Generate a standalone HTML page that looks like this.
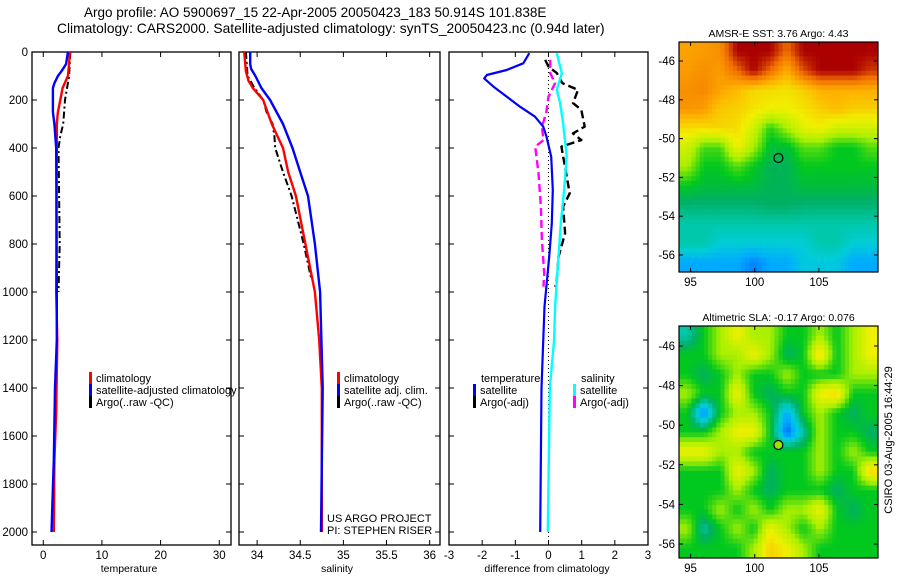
<!DOCTYPE html>
<html><head><meta charset="utf-8"><style>
body{margin:0;background:#fff;}
svg{display:block;font-family:"Liberation Sans",sans-serif;}
</style></head><body>
<svg id="fig" width="900" height="580" viewBox="0 0 900 580" xmlns="http://www.w3.org/2000/svg">
<defs>
<clipPath id="clipTop"><rect x="679" y="42" width="199" height="230"/></clipPath>
<clipPath id="clipBot"><rect x="679" y="326" width="199" height="232"/></clipPath>
</defs>
<text x="84" y="17" font-size="13.5">Argo profile: AO 5900697_15 22-Apr-2005 20050423_183 50.914S 101.838E</text>
<text x="57" y="33" font-size="13.8">Climatology: CARS2000. Satellite-adjusted climatology: synTS_20050423.nc (0.94d later)</text>
<g id="plots"></g>
<text x="0" y="0" font-size="11" transform="translate(892,440) rotate(-90)" text-anchor="middle">CSIRO 03-Aug-2005 16:44:29</text>
</svg>
<script>
// ---- data ----
const pTempClim=[0,50,100,150,200,250,300,400,1000,1200,1500,1700,2000];
const tempClim=[4.5,4.4,4.2,3.3,2.9,2.5,2.3,2.3,2.2,2.4,2.2,1.9,1.8];
const pTempSat=[0,50,80,100,130,150,250,300,400,1000,1200,1400,1700,2000];
const tempSat=[4.2,3.9,3.1,2.5,1.9,1.65,1.65,1.9,2.2,2.3,2.3,2.0,1.8,1.4];
const pTempArgo=[0,100,200,300,350,400,600,800,1000];
const tempArgo=[4.6,4.4,3.7,3.4,2.9,2.6,2.7,2.8,2.6];
const pSalClim=[0,80,120,150,200,300,400,500,600,800,1000,1200,1400,2000];
const salClim=[33.85,33.87,33.9,33.95,34.07,34.17,34.3,34.36,34.45,34.56,34.67,34.72,34.75,34.75];
const pSalSat=[0,50,70,100,150,200,300,400,500,600,800,1000,1400,2000];
const salSat=[33.92,33.92,33.93,33.98,34.05,34.15,34.3,34.41,34.5,34.59,34.67,34.73,34.76,34.74];
const pSalArgo=[0,100,150,200,250,300,350,400,500,600,700,800,900,950];
const salArgo=[33.87,33.89,33.97,34.07,34.11,34.18,34.2,34.21,34.3,34.4,34.47,34.54,34.6,34.63];
const pDiffTSat=[5,47,75,96,110,144,186,228,269,311,353,436,575,714,853,1061,1400,2000];
const diffTSat=[-0.58,-0.76,-1.26,-1.86,-1.94,-1.66,-1.26,-0.86,-0.41,-0.16,-0.06,0.08,0.13,0.1,0.02,-0.12,-0.21,-0.25];
const pDiffSSat=[5,88,158,213,297,436,575,714,853,1061,1200,1400,2000];
const diffSSat=[0.25,0.4,0.25,0.35,0.44,0.55,0.47,0.37,0.3,0.2,0.17,0.04,-0.02];
const pDiffTArgo=[33,61,88,130,158,213,241,311,339,367,394,589,644,755,853,950,978];
const diffTArgo=[-0.1,0,0.25,0.42,0.89,0.74,0.99,1.09,0.74,0.99,0.39,0.64,0.44,0.5,0.3,0.25,0.2];
const pDiffSArgo=[33,88,130,186,255,311,367,394,505,644,783,922,978];
const diffSArgo=[0.05,0.05,0.2,0,-0.07,-0.2,-0.15,-0.4,-0.3,-0.23,-0.2,-0.13,-0.15];
const yTicks=[0,200,400,600,800,1000,1200,1400,1600,1800,2000];
const sstGrid=[
[7.2,7.3,7.5,9,9,9,8,9,9,9,9,9],
[7.3,7.5,7.3,8,9,8,7,8.3,9,9,9,8.5],
[7.5,7.6,7.2,6.8,6.4,6.3,6.2,6.5,7,7,7,7],
[7.4,7.3,6.6,6.5,6.2,6,6,6.2,6.5,6.8,6.5,6.5],
[6.3,6.3,6.4,6.3,5.5,4.2,5,5.8,6,5.5,5.5,5.5],
[5.5,4.4,4.4,6,5,3.8,3.8,4.5,4.5,4,4,4.5],
[5,4,4,4.5,4,3.6,3.6,4,4,4,4,4],
[4,3.8,3.8,3.8,3.8,3.6,3.6,3.8,3.8,3.8,3.8,3.8],
[3.4,3.4,3.4,3.4,3.4,3.5,3.5,3.4,3.4,3.4,3.4,3.4],
[3,3,3,3,3,3,3,3,3,3,3,3],
[3,3,2.6,2.6,2.6,2.6,2.6,2.6,3,3,2.6,2.6],
[2,2,2,2,1.6,2,2,2.5,2.5,2.5,2,2]];
const slaGrid=[
[3,4,5,6,5,5,4,4,5,4,5,6],
[4,4,5,5,6,5,3.5,4,6.5,4,5,6],
[4,3.5,4,5,4,4,5,4,4,4,5,5],
[5,4,4,6,4,3.5,4,4,6,6.5,4,4],
[4,1.5,4,5,5,4,2,4,5,4,3.5,4],
[4,4,5,6,6,4,1.3,3,5,4,4,3.5],
[6,6,5,5,4,4,4,4,5,4,5,4],
[4,4,4,6,5,3.5,4,4,5,4,4,6.5],
[4,4,4,5,4,3.5,4,4,4,3.5,4,4],
[4,4,5,4,5,4,5,5,6,4,3.5,4],
[5,3,4,5,4,6,5,4,5,4,4,4],
[4,4,4,4,5,6.5,6,5,4,4,4,4]];

const NS='http://www.w3.org/2000/svg';
const root=document.getElementById('plots');
function mk(tag,attrs,parent){const e=document.createElementNS(NS,tag);for(const k in attrs)e.setAttribute(k,attrs[k]);(parent||root).appendChild(e);return e;}
const Y0=52,Y1=545;
const yScale=p=>52+p*0.24;

function panel(name,x0,x1,xmin,xmax,xticks,xlabels,title,titleX,showY){
  const g=mk('g',{});
  
  
  const xs=v=>x0+(v-xmin)/(xmax-xmin)*(x1-x0);
  const r=mk('rect',{x:x0,y:Y0,width:x1-x0,height:Y1-Y0,fill:'none',stroke:'#000','stroke-width':1.3},g);
  
  
  xticks.forEach((v,i)=>{
    const x=xs(v);
    mk('line',{x1:x,x2:x,y1:Y1,y2:Y1-5,stroke:'#000'},g);
    mk('line',{x1:x,x2:x,y1:Y0,y2:Y0+5,stroke:'#000'},g);
    const t=mk('text',{x:x,y:559,'font-size':11.5,'text-anchor':'middle'},g);
    t.textContent=xlabels[i];
    
    
  });
  yTicks.forEach(p=>{
    const y=yScale(p);
    mk('line',{x1:x0,x2:x0+5,y1:y,y2:y,stroke:'#000'},g);
    mk('line',{x1:x1,x2:x1-5,y1:y,y2:y,stroke:'#000'},g);
    if(showY){const t=mk('text',{x:28,y:y+4,'font-size':11.5,'text-anchor':'end'},g);t.textContent=p;
      
      }
  });
  const tt=mk('text',{x:titleX,y:572,'font-size':10.5,'text-anchor':'middle'},g);
  tt.textContent=title;
  
  
  return {g,xs};
}
function line(P,ps,vals,color,w,dash,nm){
  const d=ps.map((p,i)=>(i?'L':'M')+P.xs(vals[i]).toFixed(1)+' '+yScale(p).toFixed(1)).join(' ');
  const a={d:d,fill:'none',stroke:color,'stroke-width':w,'stroke-linejoin':'round'};
  if(dash)a['stroke-dasharray']=dash;
  const e=mk('path',a,P.g);
  
  
}
function legend(g,x,y,color,label,nm){
  if(color){mk('rect',{x:x,y:y-10,width:3,height:12,fill:color},g);}
  const t=mk('text',{x:x+7,y:y,'font-size':11},g);t.textContent=label;
  
  
}

// Panel 1: temperature
const P1=panel('temperature',32,231,-1.92,32,[0,10,20,30],['0','10','20','30'],'temperature',129,true);
line(P1,pTempArgo,tempArgo,'#000',2,'7,3,2,3','temp-argo-line');
line(P1,pTempClim,tempClim,'#ff0000',2.4,null,'temp-climatology-line');
line(P1,pTempSat,tempSat,'#0000ff',2.4,null,'temp-satellite-line');
legend(P1.g,89,382,'#ff0000','climatology','legend-climatology');
legend(P1.g,89,394,'#0000ff','satellite-adjusted climatology','legend-satellite');
legend(P1.g,89,406,'#000','Argo(..raw -QC)','legend-argo');

// Panel 2: salinity
const P2=panel('salinity',239,440,33.79,36.12,[34,34.5,35,35.5,36],['34','34.5','35','35.5','36'],'salinity',337,false);
line(P2,pSalArgo,salArgo,'#000',2,'7,3,2,3','sal-argo-line');
line(P2,pSalClim,salClim,'#ff0000',2.4,null,'sal-climatology-line');
line(P2,pSalSat,salSat,'#0000ff',2.4,null,'sal-satellite-line');
legend(P2.g,337,382,'#ff0000','climatology','legend-sal-climatology');
legend(P2.g,337,394,'#0000ff','satellite adj. clim.','legend-sal-satellite');
legend(P2.g,337,406,'#000','Argo(..raw -QC)','legend-sal-argo');
legend(P2.g,320,522,null,'US ARGO PROJECT','project-label');
legend(P2.g,320,534,null,'PI: STEPHEN RISER','pi-label');

// Panel 3: differences
const P3=panel('difference',449,648,-3,3,[-3,-2,-1,0,1,2,3],['-3','-2','-1','0','1','2','3'],'difference from climatology',547,false);
const zl=mk('line',{x1:P3.xs(0),x2:P3.xs(0),y1:Y0,y2:Y1,stroke:'#000','stroke-dasharray':'1,3'},P3.g);


line(P3,pDiffTArgo,diffTArgo,'#000',2.4,'8,4','diff-temp-argo-line');
line(P3,pDiffSArgo,diffSArgo,'#ff00ff',2.4,'8,4','diff-sal-argo-line');
line(P3,pDiffSSat,diffSSat,'#00ffff',2.4,null,'diff-sal-satellite-line');
line(P3,pDiffTSat,diffTSat,'#0000ff',2.2,null,'diff-temp-satellite-line');
legend(P3.g,474,382,null,'temperature','legend-diff-temperature-header');
legend(P3.g,473,394,'#0000ff','satellite','legend-diff-temp-satellite');
legend(P3.g,473,406,'#000','Argo(-adj)','legend-diff-temp-argo');
legend(P3.g,574,382,null,'salinity','legend-diff-salinity-header');
legend(P3.g,573,394,'#00ffff','satellite','legend-diff-sal-satellite');
legend(P3.g,573,406,'#ff00ff','Argo(-adj)','legend-diff-sal-argo');

// ---- maps ----
const stops=[[0,[0,0,180]],[1,[0,70,255]],[2,[0,170,255]],[2.6,[0,205,215]],[3,[0,200,170]],[3.5,[0,175,100]],[4,[0,200,30]],[5,[170,240,0]],[6,[240,240,0]],[7,[255,175,0]],[8,[240,110,0]],[9,[170,0,0]]];
function col(v){for(let i=1;i<stops.length;i++){if(v<=stops[i][0]){const a=stops[i-1],b=stops[i],f=(v-a[0])/(b[0]-a[0]);return 'rgb('+a[1].map((c,j)=>Math.round(c+(b[1][j]-c)*f)).join(',')+')';}}return 'rgb(170,0,0)';}
function sample(grid,fx,fy){
  const nr=grid.length,nc=grid[0].length;
  let cx=Math.min(Math.max(fx*nc-0.5,0),nc-1),cy=Math.min(Math.max(fy*nr-0.5,0),nr-1);
  const x0=Math.floor(cx),y0=Math.floor(cy),x1=Math.min(x0+1,nc-1),y1=Math.min(y0+1,nr-1);
  const ax=cx-x0,ay=cy-y0;
  const top=grid[y0][x0]*(1-ax)+grid[y0][x1]*ax,bot=grid[y1][x0]*(1-ax)+grid[y1][x1]*ax;
  return top*(1-ay)+bot*ay;
}
function map(name,grid,x0,y0,w,h,clip,latTickYs,title,markFill){
  const g=mk('g',{});
  
  
  const cg=mk('g',{'clip-path':'url(#'+clip+')'},g);
  const N=48,M=48,cw=w/N,ch=h/M;
  for(let r=0;r<M;r++)for(let c=0;c<N;c++){
    const v=sample(grid,(c+0.5)/N,(r+0.5)/M);
    const cell=mk('rect',{x:(x0+c*cw).toFixed(2),y:(y0+r*ch).toFixed(2),width:(cw+0.5).toFixed(2),height:(ch+0.5).toFixed(2),fill:col(v)},cg);
    
    
  }
  const lonX=lon=>x0+(lon-94.1)/(109.6-94.1)*w;
  mk('rect',{x:x0,y:y0,width:w,height:h,fill:'none',stroke:'#000','stroke-width':1.2},g);
  [95,100,105].forEach(l=>{const x=lonX(l);
    mk('line',{x1:x,x2:x,y1:y0+h,y2:y0+h-4,stroke:'#000'},g);
    mk('line',{x1:x,x2:x,y1:y0,y2:y0+4,stroke:'#000'},g);
    const t=mk('text',{x:x,y:y0+h+14,'font-size':11.5,'text-anchor':'middle'},g);t.textContent=l;
    
    });
  const lats=[-46,-48,-50,-52,-54,-56];
  lats.forEach((l,i)=>{const y=latTickYs[0]+(latTickYs[1]-latTickYs[0])*i/5;
    mk('line',{x1:x0,x2:x0+4,y1:y,y2:y,stroke:'#000'},g);
    mk('line',{x1:x0+w,x2:x0+w-4,y1:y,y2:y,stroke:'#000'},g);
    const t=mk('text',{x:x0-4,y:y+4,'font-size':11.5,'text-anchor':'end'},g);t.textContent=l;
    
    });
  const my=latTickYs[0]+(latTickYs[1]-latTickYs[0])*(51-46)/10;
  const m=mk('circle',{cx:lonX(101.84),cy:my,r:4.5,fill:markFill,stroke:'#000','stroke-width':1.2},g);
  
  
  const t=mk('text',{x:x0+w/2,y:y0-5,'font-size':10.5,'text-anchor':'middle'},g);t.textContent=title;
  
  
}
map('sst-map',sstGrid,679,42,199,230,'clipTop',[61,255],'AMSR-E SST: 3.76 Argo: 4.43','none');
map('sla-map',slaGrid,679,326,199,232,'clipBot',[346,544],'Altimetric SLA: -0.17 Argo: 0.076','#9be000');
</script>
</body></html>
